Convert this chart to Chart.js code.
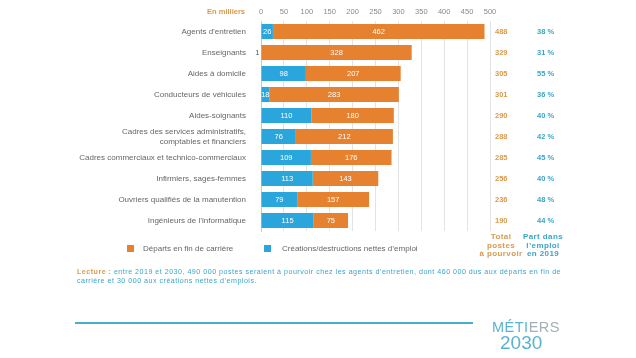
<!DOCTYPE html>
<html lang="fr">
<head>
<meta charset="utf-8">
<title>Métiers 2030 - postes à pourvoir</title>
<script src="https://cdn.jsdelivr.net/npm/chart.js@4.4.0/dist/chart.umd.min.js"></script>
<style>
    html, body { margin: 0; padding: 0; background: #ffffff; }
    #wrap { position: relative; width: 636px; height: 358px; }
</style>
</head>
<body>
<div id="wrap"><canvas id="chart" width="636" height="358"></canvas></div>
<script>
// Data (en milliers)
const categories = [
    'Agents d\u2019entretien',
    'Enseignants',
    'Aides à domicile',
    'Conducteurs de véhicules',
    'Aides-soignants',
    ['Cadres des services administratifs,', 'comptables et financiers'],
    'Cadres commerciaux et technico-commerciaux',
    'Infirmiers, sages-femmes',
    'Ouvriers qualifiés de la manutention',
    'Ingénieurs de l\u2019informatique'
];
const creations = [26, 1, 98, 18, 110, 76, 109, 113, 79, 115];
const departs = [462, 328, 207, 283, 180, 212, 176, 143, 157, 75];
const totals = [488, 329, 305, 301, 290, 288, 285, 256, 236, 190];
const partEmploi = [38, 31, 55, 36, 40, 42, 45, 40, 48, 44];
const xTicks = [0, 50, 100, 150, 200, 250, 300, 350, 400, 450, 500];

const ORANGE = '#e6812f';
const BLUE = '#2aa6dd';
const ORANGE_TXT = '#d99a4c';
const BLUE_TXT = '#3aa5c9';
const FONT = 'Liberation Sans, Arial, sans-serif';

// Extra drawing: value labels, right columns, legend, note and logo
const extrasPlugin = {
    id: 'extras',
    afterDatasetsDraw(chart) {
        const ctx = chart.ctx;
        ctx.save();
        ctx.font = '7.5px ' + FONT;
        ctx.textBaseline = 'middle';
        chart.data.datasets.forEach((ds, di) => {
            chart.getDatasetMeta(di).data.forEach((bar, i) => {
                const v = ds.data[i];
                const left = Math.min(bar.x, bar.base);
                const w = Math.abs(bar.x - bar.base);
                if (w >= 5) {
                    ctx.fillStyle = '#ffffff';
                    ctx.textAlign = 'center';
                    ctx.fillText(String(v), left + w / 2, bar.y + 0.5);
                } else {
                    ctx.fillStyle = '#555555';
                    ctx.textAlign = 'right';
                    ctx.fillText(String(v), left - 2, bar.y + 0.5);
                }
            });
        });
        ctx.restore();
    },
    afterDraw(chart) {
        const ctx = chart.ctx;
        const y = chart.scales.y;
        ctx.save();

        // "En milliers"
        ctx.font = 'bold 7.5px ' + FONT;
        ctx.fillStyle = ORANGE_TXT;
        ctx.textAlign = 'right';
        ctx.textBaseline = 'middle';
        ctx.fillText('En milliers', 245, 12);

        // totals and shares
        categories.forEach((c, i) => {
            const py = y.getPixelForValue(i) + 0.5;
            ctx.fillStyle = ORANGE_TXT;
            ctx.textAlign = 'left';
            ctx.fillText(String(totals[i]), 495, py);
            ctx.fillStyle = BLUE_TXT;
            ctx.fillText(partEmploi[i] + ' %', 537, py);
        });

        // column headers at bottom
        ctx.font = 'bold 8px ' + FONT;
        ctx.letterSpacing = '0.4px';
        ctx.textAlign = 'center';
        ctx.fillStyle = ORANGE_TXT;
        ['Total', 'postes', 'à pourvoir'].forEach((t, k) => ctx.fillText(t, 501, 237 + k * 8.5));
        ctx.fillStyle = BLUE_TXT;
        ['Part dans', 'l\u2019emploi', 'en 2019'].forEach((t, k) => ctx.fillText(t, 543, 237 + k * 8.5));
        ctx.letterSpacing = '0px';

        // legend
        ctx.font = '8px ' + FONT;
        ctx.textAlign = 'left';
        const legend = [
            { label: chart.data.datasets[1].label, color: ORANGE, bx: 127, tx: 143 },
            { label: chart.data.datasets[0].label, color: BLUE, bx: 264, tx: 282 }
        ];
        legend.forEach(l => {
            ctx.fillStyle = l.color;
            ctx.fillRect(l.bx, 245, 7, 7);
            ctx.fillStyle = '#666666';
            ctx.fillText(l.label, l.tx, 249);
        });

        // note
        ctx.letterSpacing = '0.5px';
        ctx.font = 'bold 7.1px ' + FONT;
        ctx.fillStyle = ORANGE_TXT;
        ctx.fillText('Lecture :', 77, 272);
        const lw = ctx.measureText('Lecture : ').width;
        ctx.font = '7.1px ' + FONT;
        ctx.fillStyle = BLUE_TXT;
        ctx.fillText('entre 2019 et 2030, 490 000 postes seraient à pourvoir chez les agents d\u2019entretien, dont 460 000 dus aux départs en fin de', 77 + lw, 272);
        ctx.fillText('carrière et 30 000 aux créations nettes d\u2019emplois.', 77, 281);
        ctx.letterSpacing = '0px';

        // footer line
        ctx.strokeStyle = '#4aaecb';
        ctx.lineWidth = 2;
        ctx.beginPath();
        ctx.moveTo(75, 323);
        ctx.lineTo(473, 323);
        ctx.stroke();

        // logo
        ctx.textBaseline = 'alphabetic';
        ctx.font = '14.5px ' + FONT;
        ctx.letterSpacing = '0.5px';
        ctx.fillStyle = '#5ab4cf';
        ctx.fillText('MÉTI', 492, 331.5);
        const mw = ctx.measureText('MÉTI').width;
        ctx.fillStyle = '#a3b0b8';
        ctx.fillText('ERS', 492 + mw, 331.5);
        ctx.font = '19px ' + FONT;
        ctx.letterSpacing = '0px';
        ctx.fillStyle = '#5ab4cf';
        ctx.fillText('2030', 500, 348.5);
        ctx.restore();
    }
};

new Chart(document.getElementById('chart'), {
    type: 'bar',
    data: {
        labels: categories,
        datasets: [
            {
                label: 'Créations/destructions nettes d\u2019emploi',
                data: creations,
                backgroundColor: BLUE,
                borderWidth: 0,
                barPercentage: 0.72,
                categoryPercentage: 1
            },
            {
                label: 'Départs en fin de carrière',
                data: departs,
                backgroundColor: ORANGE,
                borderWidth: 0,
                barPercentage: 0.72,
                categoryPercentage: 1
            }
        ]
    },
    options: {
        indexAxis: 'y',
        responsive: false,
        animation: false,
        layout: { padding: { top: 0, left: 0, right: 146, bottom: 127 } },
        plugins: {
            legend: { display: false },
            tooltip: { enabled: false }
        },
        scales: {
            x: {
                position: 'top',
                stacked: true,
                min: 0,
                max: 500,
                afterBuildTicks: (scale) => { scale.ticks = xTicks.map(v => ({ value: v })); },
                afterFit: (scale) => { scale.height = 21; },
                grid: { color: '#e3e3e3', drawTicks: false },
                border: { display: false },
                ticks: {
                    color: '#8a8a8a',
                    font: { family: FONT, size: 7.5 },
                    padding: 5
                }
            },
            y: {
                stacked: true,
                afterFit: (scale) => { scale.width = 261; },
                grid: { display: false, drawTicks: false },
                border: { display: true, color: '#a9d3e3', width: 1 },
                ticks: {
                    autoSkip: false,
                    color: '#666666',
                    font: { family: FONT, size: 8 },
                    padding: 15
                }
            }
        }
    },
    plugins: [extrasPlugin]
});
</script>
</body>
</html>
